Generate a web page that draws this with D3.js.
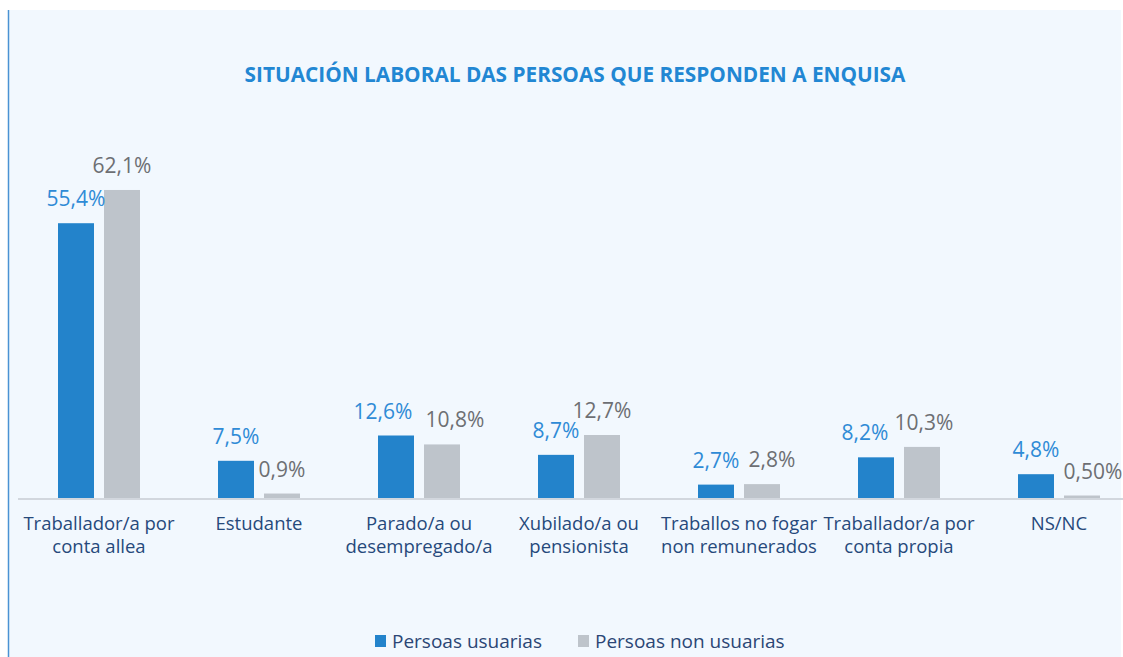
<!DOCTYPE html>
<html>
<head>
<meta charset="utf-8">
<script src="https://cdn.jsdelivr.net/npm/d3@7.9.0/dist/d3.min.js"></script>
<style>
  html, body { margin: 0; padding: 0; background: #ffffff; }
  svg { display: block; font-family: 'Open Sans', sans-serif; }
</style>
</head>
<body>
<svg id="chart" width="1123" height="657"></svg>
<script>
const title = 'SITUACIÓN LABORAL DAS PERSOAS QUE RESPONDEN A ENQUISA';

const categories = [
  'Traballador/a por conta allea',
  'Estudante',
  'Parado/a ou desempregado/a',
  'Xubilado/a ou pensionista',
  'Traballos no fogar non remunerados',
  'Traballador/a por conta propia',
  'NS/NC'
];

const categoryLines = [
  ['Traballador/a por', 'conta allea'],
  ['Estudante'],
  ['Parado/a ou', 'desempregado/a'],
  ['Xubilado/a ou', 'pensionista'],
  ['Traballos no fogar', 'non remunerados'],
  ['Traballador/a por', 'conta propia'],
  ['NS/NC']
];

const series = ['Persoas usuarias', 'Persoas non usuarias'];

const usuarias = [55.4, 7.5, 12.6, 8.7, 2.7, 8.2, 4.8];
const nonUsuarias = [62.1, 0.9, 10.8, 12.7, 2.8, 10.3, 0.5];

const usuariasLabels = ['55,4%', '7,5%', '12,6%', '8,7%', '2,7%', '8,2%', '4,8%'];
const nonUsuariasLabels = ['62,1%', '0,9%', '10,8%', '12,7%', '2,8%', '10,3%', '0,50%'];

// small horizontal nudges the original applied to avoid label overlap
const usuariasNudge = [0, 0, -13, 0, 0, -11, 0];
const nonUsuariasNudge = [0, 0, 13, 0, 10, 2, 11];

const colors = ['#2383cb', '#bec4cb'];
const labelColors = ['#2f8bd6', '#6d6f73'];

const svg = d3.select('#chart');

// panel
svg.append('rect')
  .attr('x', 8).attr('y', 10)
  .attr('width', 1113).attr('height', 647)
  .attr('fill', '#f2f8fe');

svg.append('line')
  .attr('x1', 8.5).attr('x2', 8.5)
  .attr('y1', 10).attr('y2', 657)
  .attr('stroke', '#4a92d3')
  .attr('stroke-width', 1.5);

svg.append('text')
  .attr('x', 575).attr('y', 82)
  .attr('text-anchor', 'middle')
  .attr('font-size', 20.8)
  .attr('font-weight', 700)
  .attr('fill', '#2287d3')
  .text(title);

const x0 = d3.scaleBand()
  .domain(categories)
  .range([19, 1139]);

const x1 = d3.scaleBand()
  .domain(series)
  .range([39, 121])
  .paddingInner(10 / 46);

const y = d3.scaleLinear()
  .domain([0, 70])
  .range([498, 150.8]);

const rows = categories.map((c, i) => ({
  category: c,
  lines: categoryLines[i],
  values: [
    { s: series[0], v: usuarias[i], label: usuariasLabels[i], dx: usuariasNudge[i], k: 0 },
    { s: series[1], v: nonUsuarias[i], label: nonUsuariasLabels[i], dx: nonUsuariasNudge[i], k: 1 }
  ]
}));

const groups = svg.append('g')
  .selectAll('g')
  .data(rows)
  .join('g')
  .attr('transform', d => `translate(${x0(d.category)},0)`);

groups.selectAll('rect')
  .data(d => d.values)
  .join('rect')
  .attr('x', d => x1(d.s))
  .attr('y', d => y(d.v))
  .attr('width', x1.bandwidth())
  .attr('height', d => y(0) - y(d.v))
  .attr('fill', d => colors[d.k]);

groups.selectAll('text.value')
  .data(d => d.values)
  .join('text')
  .attr('class', 'value')
  .attr('x', d => x1(d.s) + x1.bandwidth() / 2 + d.dx)
  .attr('y', d => y(d.v) - 17)
  .attr('text-anchor', 'middle')
  .attr('font-size', 21)
  .attr('fill', d => labelColors[d.k])
  .text(d => d.label);

// axis baseline
svg.append('line')
  .attr('x1', 18).attr('x2', 1123)
  .attr('y1', y(0) + 1).attr('y2', y(0) + 1)
  .attr('stroke', '#d2d7de')
  .attr('stroke-width', 2);

// category labels
const catText = groups.append('text')
  .attr('x', x0.bandwidth() / 2)
  .attr('y', 530)
  .attr('text-anchor', 'middle')
  .attr('font-size', 18.5)
  .attr('fill', '#26497b');

catText.selectAll('tspan')
  .data(d => d.lines)
  .join('tspan')
  .attr('x', x0.bandwidth() / 2)
  .attr('dy', (d, i) => i === 0 ? 0 : 23)
  .text(d => d);

// legend
const legendX = [375, 578];
const legend = svg.append('g')
  .selectAll('g')
  .data(series)
  .join('g')
  .attr('transform', (d, i) => `translate(${legendX[i]},641)`);

legend.append('rect')
  .attr('x', 0).attr('y', -6)
  .attr('width', 11).attr('height', 12)
  .attr('fill', (d, i) => colors[i]);

legend.append('text')
  .attr('x', 17).attr('y', 6.5)
  .attr('font-size', 19)
  .attr('fill', '#2b4675')
  .text(d => d);
</script>
</body>
</html>
